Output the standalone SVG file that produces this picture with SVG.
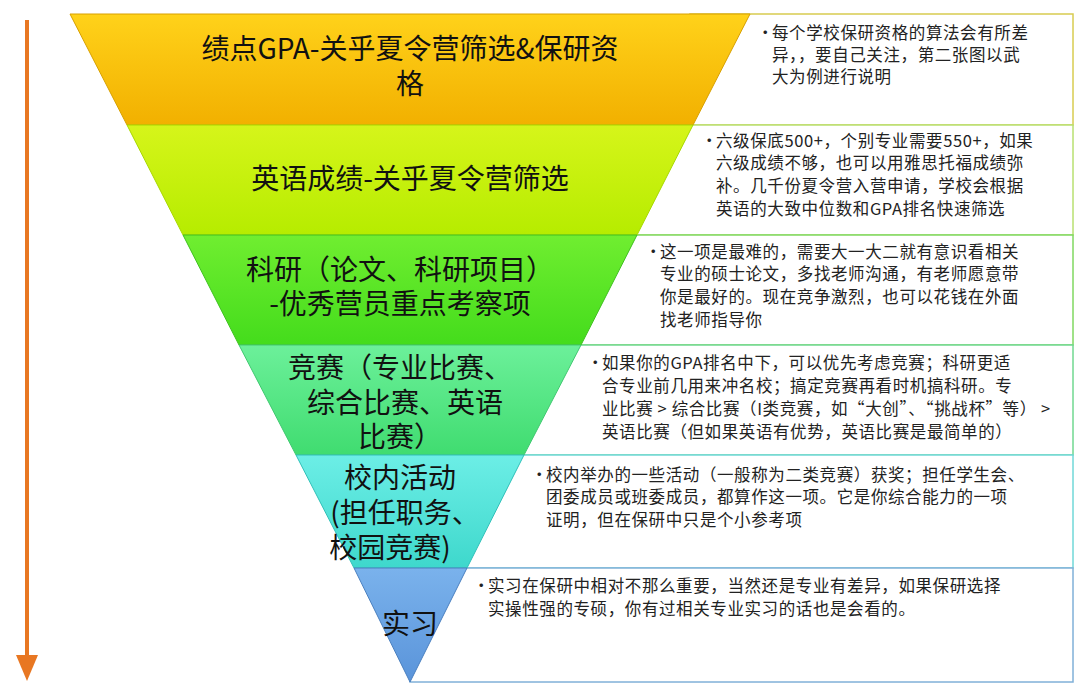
<svg xmlns="http://www.w3.org/2000/svg" width="1080" height="691" viewBox="0 0 1080 691">
<style>
.lbl{font-family:"Noto Sans CJK SC","Noto Sans",sans-serif;font-size:28px;fill:#111;text-anchor:middle}
.txt{font-family:"Noto Sans CJK SC","Noto Sans",sans-serif;font-size:16.5px;fill:#222;letter-spacing:0.6px}
.box{fill:#fff;stroke-width:1.5}
</style>
<defs>
<marker id="ah" markerWidth="26" markerHeight="22" refX="13" refY="11" orient="auto" markerUnits="userSpaceOnUse" viewBox="0 0 26 22"><path d="M0,0 L26,11 L0,22 Z" fill="#E87722"/></marker>
<linearGradient id="g1" x1="0" y1="0" x2="0" y2="1"><stop offset="0" stop-color="#FFD21A"/><stop offset="1" stop-color="#F2B000"/></linearGradient>
<linearGradient id="g2" x1="0" y1="0" x2="0" y2="1"><stop offset="0" stop-color="#D6F51A"/><stop offset="1" stop-color="#B6EC00"/></linearGradient>
<linearGradient id="g3" x1="0" y1="0" x2="0" y2="1"><stop offset="0" stop-color="#70EE30"/><stop offset="1" stop-color="#44DC1C"/></linearGradient>
<linearGradient id="g4" x1="0" y1="0" x2="0" y2="1"><stop offset="0" stop-color="#6CF09A"/><stop offset="1" stop-color="#40DC70"/></linearGradient>
<linearGradient id="g5" x1="0" y1="0" x2="0" y2="1"><stop offset="0" stop-color="#6CEEE6"/><stop offset="1" stop-color="#3ED8CC"/></linearGradient>
<linearGradient id="g6" x1="0" y1="0" x2="0" y2="1"><stop offset="0" stop-color="#7AB2EC"/><stop offset="1" stop-color="#5A94DA"/></linearGradient>
</defs>
<rect width="1080" height="691" fill="#fff"/>
<g id="connectors">
<line x1="27" y1="20" x2="27" y2="668" stroke="#E87722" stroke-width="4" marker-end="url(#ah)"/>
</g>
<g id="box1"><rect class="box" x="690" y="14" width="383" height="111" stroke="#D8CC50"/>
<text class="txt" x="757" y="39">•</text>
<text class="txt"><tspan x="772" y="39">每个学校保研资格的算法会有所差</tspan><tspan x="772" y="61">异，，要自己关注，第二张图以武</tspan><tspan x="772" y="83">大为例进行说明</tspan></text></g>
<g id="box2"><rect class="box" x="634" y="125" width="439" height="110" stroke="#B8E070"/>
<text class="txt" x="701" y="147">•</text>
<text class="txt"><tspan x="716" y="147">六级保底500+，个别专业需要550+，如果</tspan><tspan x="716" y="169">六级成绩不够，也可以用雅思托福成绩弥</tspan><tspan x="716" y="192">补。几千份夏令营入营申请，学校会根据</tspan><tspan x="716" y="215">英语的大致中位数和GPA排名快速筛选</tspan></text></g>
<g id="box3"><rect class="box" x="578" y="235" width="495" height="110" stroke="#80D860"/>
<text class="txt" x="645" y="258">•</text>
<text class="txt"><tspan x="660" y="258">这一项是最难的，需要大一大二就有意识看相关</tspan><tspan x="660" y="280">专业的硕士论文，多找老师沟通，有老师愿意带</tspan><tspan x="660" y="303">你是最好的。现在竞争激烈，也可以花钱在外面</tspan><tspan x="660" y="326">找老师指导你</tspan></text></g>
<g id="box4"><rect class="box" x="522" y="345" width="551" height="110" stroke="#70D890"/>
<text class="txt" x="587" y="369">•</text>
<text class="txt"><tspan x="602" y="369">如果你的GPA排名中下，可以优先考虑竞赛；科研更适</tspan><tspan x="602" y="392">合专业前几用来冲名校；搞定竞赛再看时机搞科研。专</tspan><tspan x="602" y="415">业比赛 &gt; 综合比赛（I类竞赛，如“大创”、“挑战杯”等） &gt;</tspan><tspan x="602" y="438">英语比赛（但如果英语有优势，英语比赛是最简单的）</tspan></text></g>
<g id="box5"><rect class="box" x="465" y="455" width="608" height="113" stroke="#70D8D8"/>
<text class="txt" x="531" y="481">•</text>
<text class="txt"><tspan x="546" y="481">校内举办的一些活动（一般称为二类竞赛）获奖；担任学生会、</tspan><tspan x="546" y="503">团委成员或班委成员，都算作这一项。它是你综合能力的一项</tspan><tspan x="546" y="526">证明，但在保研中只是个小参考项</tspan></text></g>
<g id="box6"><rect class="box" x="410" y="568" width="663" height="114" stroke="#80B0D8"/>
<text class="txt" x="473" y="592">•</text>
<text class="txt"><tspan x="488" y="592">实习在保研中相对不那么重要，当然还是专业有差异，如果保研选择</tspan><tspan x="488" y="615">实操性强的专硕，你有过相关专业实习的话也是会看的。</tspan></text></g>
<g id="n1"><polygon points="70,14 750,14 693,125 127,125" fill="url(#g1)" stroke="#D8A000"/>
<text class="lbl"><tspan x="410" y="59">绩点GPA-关乎夏令营筛选&amp;保研资</tspan><tspan x="410" y="94">格</tspan></text></g>
<g id="n2"><polygon points="127,125 693,125 637,235 183,235" fill="url(#g2)" stroke="#A8D800"/>
<text class="lbl" x="410" y="189">英语成绩-关乎夏令营筛选</text></g>
<g id="n3"><polygon points="183,235 637,235 581,345 239,345" fill="url(#g3)" stroke="#40C020"/>
<text class="lbl"><tspan x="400" y="280">科研（论文、科研项目）</tspan><tspan x="400" y="314">-优秀营员重点考察项</tspan></text></g>
<g id="n4"><polygon points="239,345 581,345 524,455 296,455" fill="url(#g4)" stroke="#40C870"/>
<text class="lbl"><tspan x="400" y="378">竞赛（专业比赛、</tspan><tspan x="405" y="413">综合比赛、英语</tspan><tspan x="400" y="447">比赛）</tspan></text></g>
<g id="n5"><polygon points="296,455 524,455 467,568 354,568" fill="url(#g5)" stroke="#30C0B8"/>
<text class="lbl"><tspan x="400" y="488">校内活动</tspan><tspan x="405" y="523">(担任职务、</tspan><tspan x="390" y="558">校园竞赛)</tspan></text></g>
<g id="n6"><polygon points="354,568 467,568 410,682" fill="url(#g6)" stroke="#4A80C0"/>
<text class="lbl" x="410" y="634">实习</text></g>
</svg>
